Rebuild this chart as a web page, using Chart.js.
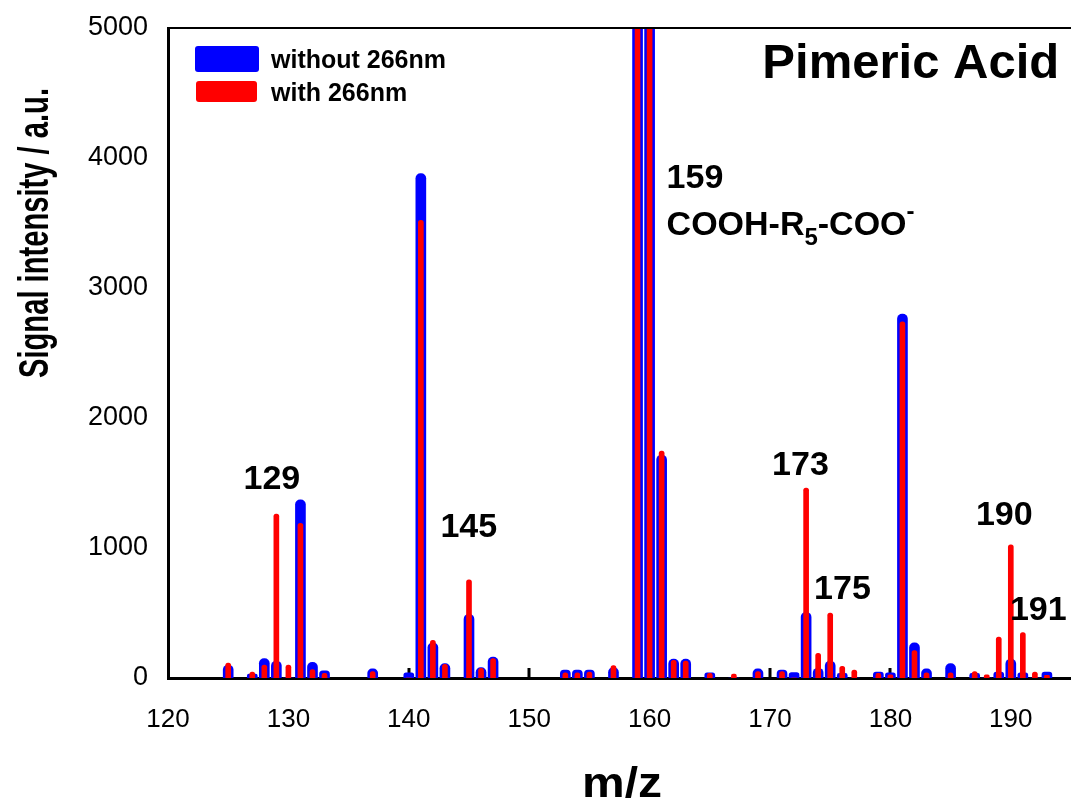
<!DOCTYPE html>
<html>
<head>
<meta charset="utf-8">
<title>Pimeric Acid</title>
<script src="https://cdn.jsdelivr.net/npm/chart.js@4.4.1/dist/chart.umd.min.js"></script>
<style>
  html, body { margin: 0; padding: 0; background: #fff; }
  #chart { display: block; }
</style>
</head>
<body>
<canvas id="chart" width="1071" height="806"></canvas>
<script>
'use strict';

// m/z positions of the peaks, shared by both spectra.
var massToCharge = [
  125, 127, 128, 129, 130, 131, 132, 133, 137, 140, 141, 142, 143, 145, 146, 147,
  153, 154, 155, 157, 159, 160, 161, 162, 163, 165, 167, 169, 171, 172, 173, 174,
  175, 176, 177, 179, 180, 181, 182, 183, 185, 187, 188, 189, 190, 191, 192, 193
];

// Signal without the 266nm laser (blue). 159 and 160 run off the top.
var withoutLaser = [
  100, 30, 150, 130, 0, 1370, 120, 55, 70, 40, 3880, 270, 110, 490, 80, 160,
  60, 60, 60, 80, 5400, 5400, 1715, 145, 145, 40, 0, 70, 60, 42, 505, 75,
  130, 35, 0, 45, 40, 2800, 270, 70, 110, 35, 0, 45, 145, 40, 0, 45
];

// Signal with the 266nm laser (red).
var withLaser = [
  115, 45, 100, 1260, 100, 1190, 65, 35, 50, 0, 3520, 290, 105, 755, 75, 150,
  40, 40, 45, 95, 5400, 5400, 1745, 135, 130, 35, 30, 50, 50, 0, 1460, 190,
  500, 90, 60, 35, 25, 2740, 210, 40, 40, 50, 25, 315, 1025, 350, 45, 20
];

var xTicks = [120, 130, 140, 150, 160, 170, 180, 190];
var yTicks = [0, 1000, 2000, 3000, 4000, 5000];

// Peak labels, anchored in data coordinates.
var peakLabels = [
  { text: '129', x: 128.63, y: 1454 },
  { text: '145', x: 144.98, y: 1085 },
  { text: '173', x: 172.53, y: 1562 },
  { text: '175', x: 176.02, y: 608 },
  { text: '190', x: 189.46, y: 1177 },
  { text: '191', x: 192.28, y: 446 }
];

var FONT = '"Liberation Sans", Arial, Helvetica, sans-serif';

function toPoints(values) {
  return massToCharge.map(function(m, i) {
    return { x: m, y: values[i] };
  });
}

function fitText(ctx, text, width) {
  var measured = ctx.measureText(text).width;
  return width / measured;
}

var decorations = {
  id: 'decorations',

  // Inner tick marks on the m/z axis sit behind the bars.
  beforeDatasetsDraw: function(chart) {
    var ctx = chart.ctx;
    var area = chart.chartArea;
    var x = chart.scales.x;
    ctx.save();
    ctx.strokeStyle = '#000';
    ctx.lineWidth = 3;
    xTicks.forEach(function(t) {
      if (t === xTicks[0]) return;
      var px = Math.round(x.getPixelForValue(t));
      ctx.beginPath();
      ctx.moveTo(px, area.bottom);
      ctx.lineTo(px, area.bottom - 10);
      ctx.stroke();
    });
    ctx.restore();
  },

  afterDraw: function(chart) {
    var ctx = chart.ctx;
    var area = chart.chartArea;
    var xs = chart.scales.x;
    var ys = chart.scales.y;

    ctx.save();

    // Frame along the top of the plot.
    ctx.strokeStyle = '#000';
    ctx.lineWidth = 2;
    ctx.beginPath();
    ctx.moveTo(area.left, area.top);
    ctx.lineTo(area.right, area.top);
    ctx.stroke();

    // Legend, blue entry first.
    var entries = chart.data.datasets.slice().sort(function(a, b) {
      return b.order - a.order;
    });
    var swatches = [
      { x: 195, y: 46, w: 64, h: 26 },
      { x: 196, y: 81, w: 61, h: 21 }
    ];
    ctx.font = 'bold 25px ' + FONT;
    ctx.textBaseline = 'alphabetic';
    ctx.textAlign = 'left';
    entries.forEach(function(ds, i) {
      var s = swatches[i];
      ctx.fillStyle = ds.backgroundColor;
      ctx.beginPath();
      ctx.roundRect(s.x, s.y, s.w, s.h, 3);
      ctx.fill();
      ctx.fillStyle = '#000';
      ctx.fillText(ds.label, 271, s.y + s.h / 2 + 9);
    });

    // Sample name.
    ctx.font = 'bold 49px ' + FONT;
    ctx.textAlign = 'right';
    ctx.fillText('Pimeric Acid', xs.getPixelForValue(194.02), ys.getPixelForValue(4615));

    // Peak labels.
    ctx.font = 'bold 34px ' + FONT;
    ctx.textAlign = 'center';
    peakLabels.forEach(function(p) {
      ctx.fillText(p.text, xs.getPixelForValue(p.x), ys.getPixelForValue(p.y));
    });

    // 159 with its formula, including sub- and superscript.
    var lx = xs.getPixelForValue(161.41);
    ctx.textAlign = 'left';
    ctx.fillText('159', lx, ys.getPixelForValue(3769));
    var by = ys.getPixelForValue(3408);
    var parts = [
      { t: 'COOH-R', size: 34, dy: 0 },
      { t: '5', size: 24, dy: 10 },
      { t: '-COO', size: 34, dy: 0 },
      { t: '-', size: 24, dy: -16 }
    ];
    parts.forEach(function(p) {
      ctx.font = 'bold ' + p.size + 'px ' + FONT;
      ctx.fillText(p.t, lx, by + p.dy);
      lx += ctx.measureText(p.t).width;
    });

    // Axis titles in a condensed bold face.
    ctx.font = 'bold 42px ' + FONT;
    ctx.textAlign = 'center';
    ctx.textBaseline = 'middle';
    ctx.save();
    ctx.translate(36, 233);
    ctx.rotate(-Math.PI / 2);
    ctx.scale(fitText(ctx, 'Signal intensity / a.u.', 290), 1);
    ctx.fillText('Signal intensity / a.u.', 0, 0);
    ctx.restore();

    ctx.font = 'bold 42px ' + FONT;
    ctx.textBaseline = 'alphabetic';
    ctx.save();
    ctx.translate(622, 797);
    ctx.scale(fitText(ctx, 'm/z', 80), 1);
    ctx.fillText('m/z', 0, 0);
    ctx.restore();

    ctx.restore();
  }
};

var chart = new Chart(document.getElementById('chart'), {
  type: 'bar',
  data: {
    datasets: [
      {
        label: 'with 266nm',
        data: toPoints(withLaser),
        backgroundColor: '#ff0000',
        barThickness: 5,
        borderRadius: { topLeft: 2.5, topRight: 2.5 },
        borderSkipped: 'start',
        grouped: false,
        order: 0
      },
      {
        label: 'without 266nm',
        data: toPoints(withoutLaser),
        backgroundColor: '#0000ff',
        barThickness: 10,
        borderRadius: { topLeft: 5, topRight: 5 },
        borderSkipped: 'start',
        grouped: false,
        order: 1
      }
    ]
  },
  options: {
    responsive: false,
    animation: false,
    devicePixelRatio: 1,
    layout: { padding: { top: 28, left: 0, right: 0, bottom: 0 } },
    plugins: {
      legend: { display: false },
      tooltip: { enabled: false },
      title: { display: false }
    },
    scales: {
      x: {
        type: 'linear',
        min: 120,
        max: 195,
        offset: false,
        grid: { display: false, drawTicks: false },
        border: { display: true, color: '#000', width: 3 },
        ticks: {
          color: '#000',
          font: { family: FONT, size: 26 },
          padding: 26,
          maxRotation: 0,
          callback: function(v) { return String(v); }
        },
        afterBuildTicks: function(scale) {
          scale.ticks = xTicks.map(function(v) { return { value: v }; });
        },
        afterFit: function(scale) { scale.height = 128; }
      },
      y: {
        min: 0,
        max: 5000,
        grid: { display: false, drawTicks: false },
        border: { display: true, color: '#000', width: 3 },
        ticks: {
          color: '#000',
          // small line height keeps the top label from pushing the plot down
          font: { family: FONT, size: 27, lineHeight: 0.3 },
          padding: 20,
          callback: function(v) { return String(v); }
        },
        afterBuildTicks: function(scale) {
          scale.ticks = yTicks.map(function(v) { return { value: v }; });
        },
        afterFit: function(scale) { scale.width = 168; }
      }
    }
  },
  plugins: [decorations]
});
</script>
</body>
</html>
